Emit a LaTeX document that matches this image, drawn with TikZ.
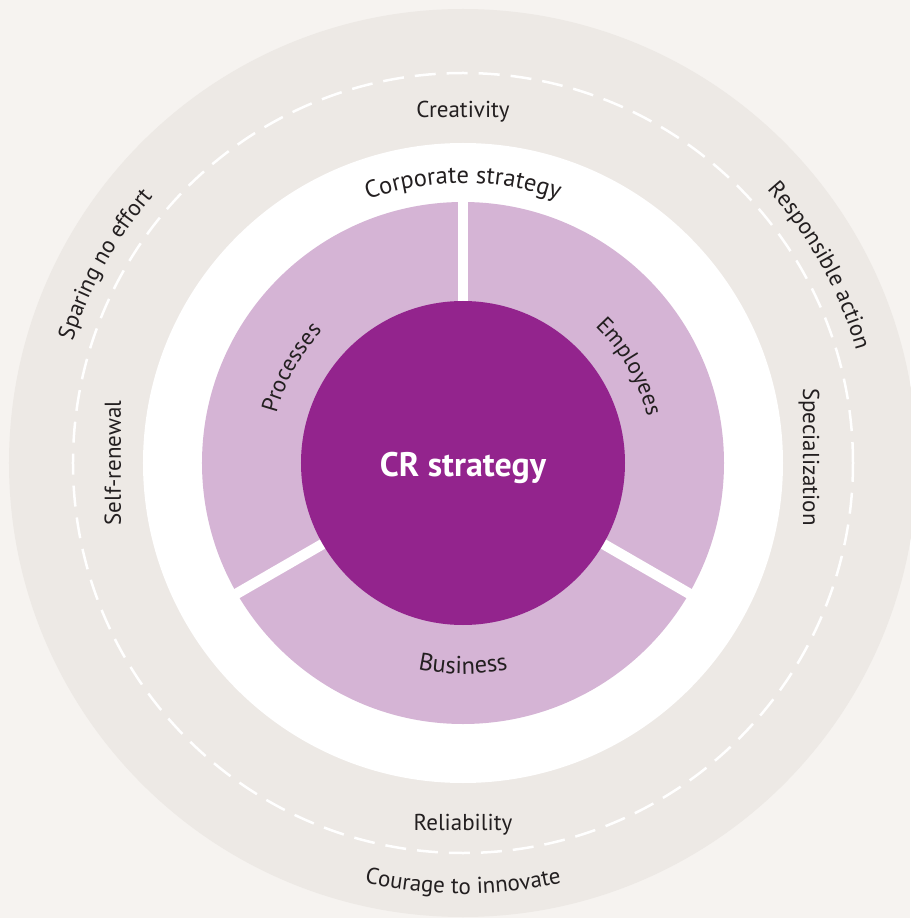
\documentclass[tikz,border=0pt]{standalone}
\usepackage{fontspec}
\setmainfont{PT Sans}
\usetikzlibrary{decorations.text}
\definecolor{bgc}{HTML}{F6F3F0}
\definecolor{ringc}{HTML}{EDE9E5}
\definecolor{lilac}{HTML}{D5B4D5}
\definecolor{plum}{HTML}{93248D}
\definecolor{txt}{HTML}{231F20}
\newcommand\lblfont{\fontsize{23}{27}\selectfont}
\newcommand\widefont{\fontsize{24.5}{28}\selectfont}
\newcommand\corefont{\fontsize{34}{39}\selectfont\bfseries}
\begin{document}
\begin{tikzpicture}[x=1pt,y=1pt,
  lbl/.style={font=\lblfont, text=txt, inner sep=0pt, anchor=base},
  curved/.style={decorate, decoration={text along path, text align=center,
     text color=txt, text={|\lblfont|#1}}},
  curvedwide/.style={decorate, decoration={text along path, text align=center,
     text color=txt, text={|\widefont|#1}}},
  gapline/.style={draw=white, line width=10.5pt},
  dashring/.style={draw=white, line width=2.5pt, dash pattern=on 21pt off 11pt}]
\fill[bgc] (-463,-455) rectangle (447,463);
\useasboundingbox (-463,-455) rectangle (447,463);
% rings
\fill[ringc] (0,0) circle[radius=454];
\draw[dashring] (0,0) circle[radius=390];
\fill[white] (0,0) circle[radius=320];
\fill[lilac] (0,0) circle[radius=261];
\foreach \a in {90,210,330} \draw[gapline] (0,0) -- (\a:268);
\fill[plum] (0,0) circle[radius=162];
% centre
\node[font=\corefont, text=white, inner sep=0pt] (core) at (0,-5) {CR strategy};
% straight labels
\node[lbl] (creativity) at (0,345) {Creativity};
\node[lbl] (reliability) at (0,-367) {Reliability};
\node[lbl, rotate=-90] (special) at (340,6) {Specialization};
\node[lbl, rotate=90] (selfren) at (-342,0) {Self-renewal};
% curved labels
\path[curvedwide={Corporate strategy}] (130:280) arc[start angle=130, end angle=50, radius=280];
\path[curved={Processes}] (191:193) arc[start angle=191, end angle=111, radius=193];
\path[curved={Employees}] (70:190) arc[start angle=70, end angle=-10, radius=190];
\path[curvedwide={Business}] (230:211) arc[start angle=230, end angle=310, radius=211];
\path[curved={Courage to innovate}] (235:431) arc[start angle=235, end angle=305, radius=431];
\path[curved={Responsible action}] (58:409) arc[start angle=58, end angle=0, radius=409];
\path[curved={Sparing no effort}] (180:409) arc[start angle=180, end angle=122, radius=409];
\end{tikzpicture}
\end{document}
